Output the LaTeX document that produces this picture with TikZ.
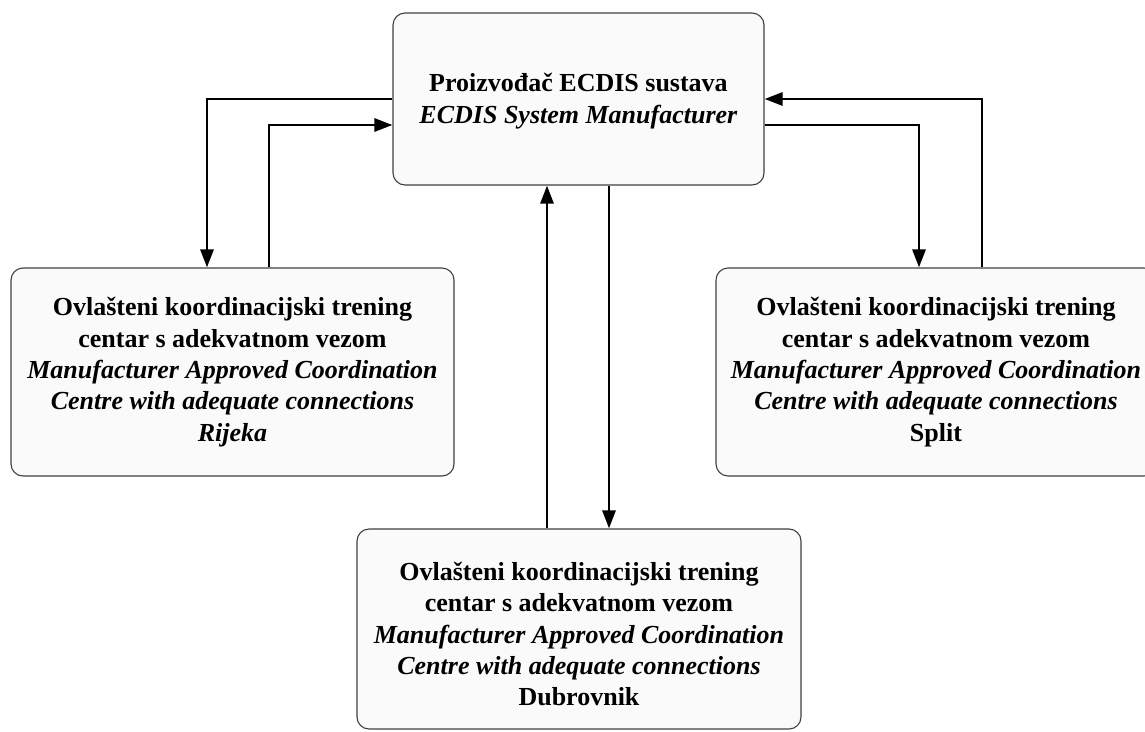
\documentclass[tikz,border=0pt]{standalone}
\usepackage{fontspec}
\setmainfont{Liberation Serif}
\usetikzlibrary{arrows.meta}
\tikzset{
  box/.style={draw=black!75, line width=1.1pt, fill=black!2, rounded corners=12pt,
    align=center, inner sep=0pt, font=\fontsize{26}{31.3}\selectfont},
  txt/.style={align=center, inner sep=0pt, font=\fontsize{26}{31.3}\selectfont},
  arr/.style={line width=2.8pt, -{Triangle[length=18pt,width=13pt]}}
}
\begin{document}
\begin{tikzpicture}[x=1pt,y=-1pt]
\useasboundingbox (0,0) rectangle (1145,731);
\begin{scope}
\clip (0,0) rectangle (1145,731);
\node[box, minimum width=371pt, minimum height=172pt] (top) at (578.5,99) {};
\node[txt] (toptext) at (578.5,101)
  {\textbf{Proizvođač ECDIS sustava}\\\textbf{\textit{ECDIS System Manufacturer}}};
\node[box, minimum width=443pt, minimum height=208pt] (left) at (232.5,372)
  {\textbf{Ovlašteni koordinacijski trening}\\\textbf{centar s adekvatnom vezom}\\\textbf{\textit{Manufacturer Approved Coordination}}\\\textbf{\textit{Centre with adequate connections}}\\\textbf{\textit{Rijeka}}};
\node[box, minimum width=440pt, minimum height=208pt] (right) at (936,372)
  {\textbf{Ovlašteni koordinacijski trening}\\\textbf{centar s adekvatnom vezom}\\\textbf{\textit{Manufacturer Approved Coordination}}\\\textbf{\textit{Centre with adequate connections}}\\\textbf{Split}};
\node[box, minimum width=444pt, minimum height=200pt] (bot) at (579,629) {};
\node[txt] (bottext) at (579,634)
  {\textbf{Ovlašteni koordinacijski trening}\\\textbf{centar s adekvatnom vezom}\\\textbf{\textit{Manufacturer Approved Coordination}}\\\textbf{\textit{Centre with adequate connections}}\\\textbf{Dubrovnik}};
\end{scope}
\draw[arr] (top.west) -| ([xshift=-25.5pt]left.north);
\draw[arr] ([xshift=36.5pt]left.north) |- ([yshift=-26pt]top.west);
\draw[arr] ([yshift=-26pt]top.east) -| ([xshift=-17pt]right.north);
\draw[arr] ([xshift=46pt]right.north) |- (top.east);
\draw[arr] ([xshift=-32pt]bot.north) -- ([xshift=-32pt]bot.north |- top.south);
\draw[arr] ([xshift=30pt]bot.north |- top.south) -- ([xshift=30pt]bot.north);
\end{tikzpicture}
\end{document}
